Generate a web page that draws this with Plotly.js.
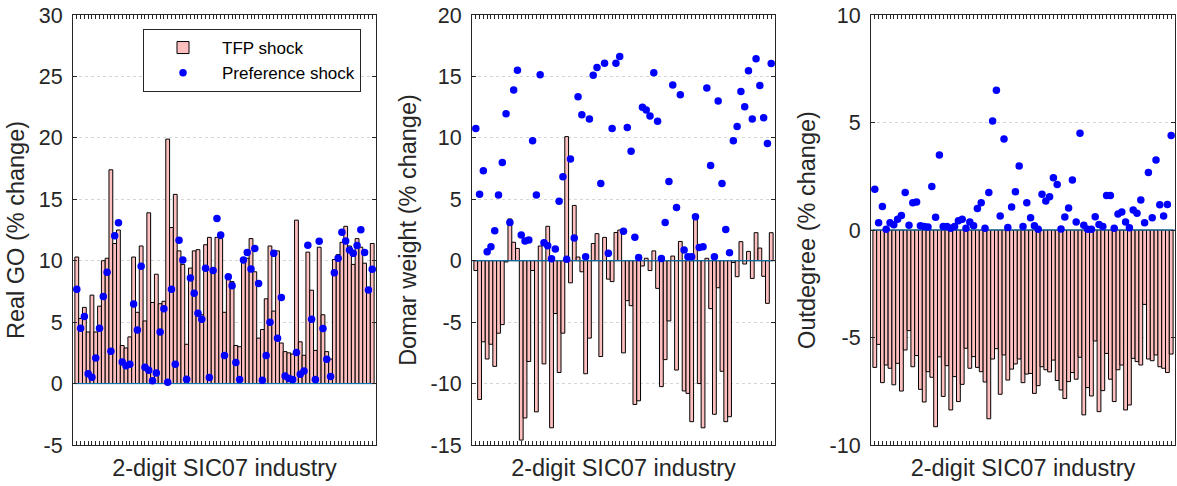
<!DOCTYPE html>
<html><head><meta charset="utf-8">
<script src="https://cdn.plot.ly/plotly-3.0.1.min.js"></script>
<style>html,body{margin:0;padding:0;background:#fff}#chart{width:1177px;height:486px}</style>
</head><body><div id="chart"></div>
<script>
const industry = [1,2,3,4,5,6,7,8,9,10,11,12,13,14,15,16,17,18,19,20,21,22,23,24,25,26,27,28,29,30,31,32,33,34,35,36,37,38,39,40,41,42,43,44,45,46,47,48,49,50,51,52,53,54,55,56,57,58,59,60,61,62,63,64,65,66,67,68,69,70,71,72,73,74,75,76,77,78,79];

const goTFP = [10.3,5.3,6.2,4.2,7.2,4.2,6.3,10.0,10.2,17.4,11.4,12.5,3.1,2.9,3.8,10.3,5.8,11.2,5.1,13.9,6.6,8.9,6.5,6.7,19.9,12.7,15.4,10.8,9.7,3.2,9.4,10.8,10.9,5.6,11.3,11.9,9.2,11.9,11.8,5.8,8.5,8.3,3.1,3.0,10.1,10.2,11.8,9.1,3.7,4.4,6.9,11.2,5.9,10.8,3.3,2.6,2.5,2.4,13.3,3.4,2.3,10.7,7.6,2.7,11.1,5.6,2.6,2.0,10.1,10.5,11.5,12.8,11.2,9.7,11.8,11.1,9.8,7.7,11.4];
const goPref = [7.68,4.5,5.45,0.79,0.52,2.09,4.5,7.08,9.06,2.63,12.04,13.1,1.76,1.46,1.57,6.48,4.37,9.55,1.33,1.08,0.22,0.87,4.2,6.1,0.11,7.68,1.57,11.66,10.06,0.35,8.6,7.35,5.72,5.23,9.38,0.49,9.2,13.43,12.1,2.28,8.7,7.97,1.71,0.33,10.06,10.66,9.33,11.0,8.14,0.27,2.28,5.0,10.6,3.69,7.0,0.62,0.41,0.33,2.52,0.76,1.03,11.26,5.23,0.33,11.58,4.48,1.98,0.57,9.03,10.2,12.31,11.6,10.88,10.6,11.23,12.53,10.66,7.62,9.3];

const domarTFP = [-0.8,-11.3,-6.6,-8.0,-6.8,-8.6,-5.9,-5.2,-0.1,3.4,1.5,1.0,-14.6,-12.8,-8.2,-0.8,-12.3,1.2,-8.4,2.8,-13.6,-4.3,-9.1,-5.9,10.1,-1.8,4.5,0.3,-0.9,-9.2,-6.3,1.4,2.2,-7.8,1.9,-1.5,-1.7,2.3,2.5,-7.5,-3.25,-3.66,-11.7,-11.4,-0.43,0.2,-0.8,0.8,-2.25,-10.25,-8.05,-4.9,0.38,-8.9,1.57,-10.6,-10.8,-13.1,3.4,-10.0,-13.6,0.2,-3.9,-12.5,-2.2,-9.0,-13.1,-12.7,-0.15,-1.3,1.55,-0.27,0.76,-1.44,2.28,1.03,-1.27,-3.47,2.28];
const domarPref = [10.77,5.42,7.32,0.73,1.14,2.44,5.34,8.0,11.96,3.12,13.89,15.51,2.09,1.6,1.68,9.76,5.34,15.13,1.46,1.22,0.16,0.95,4.83,6.83,0.11,8.27,1.84,13.34,11.88,0.33,11.53,15.1,15.73,6.29,16.08,0.6,10.77,16.08,16.63,2.39,10.85,8.9,1.9,0.27,12.5,12.26,11.77,15.3,11.36,0.19,3.12,6.45,14.3,4.34,13.5,0.87,0.33,0.33,3.58,1.08,1.14,14.05,7.76,0.33,13.0,6.29,2.55,0.65,9.76,10.93,13.78,12.53,15.46,11.53,16.44,14.27,11.64,9.55,16.06];

const outTFP = [-6.39,-5.32,-7.1,-6.28,-6.43,-7.2,-6.2,-7.49,-5.58,-4.68,-6.36,-5.84,-7.41,-8.0,-6.59,-6.85,-9.15,-5.9,-7.74,-6.31,-8.37,-6.82,-7.98,-7.18,-5.5,-6.43,-5.89,-6.39,-6.59,-7.07,-8.78,-6.0,-5.52,-7.64,-5.81,-6.98,-6.47,-6.23,-6.0,-7.1,-6.7,-6.67,-7.6,-7.24,-6.36,-6.5,-6.6,-6.05,-7.0,-7.44,-7.84,-7.05,-6.63,-6.94,-5.92,-8.6,-7.33,-7.72,-5.16,-8.45,-7.47,-5.74,-6.94,-7.98,-6.5,-6.28,-8.37,-8.14,-5.97,-6.12,-6.28,-3.46,-6.0,-6.08,-5.81,-6.36,-6.43,-6.63,-5.77];
const outPref = [1.89,0.34,1.09,0.03,0.34,0.25,0.5,0.68,1.74,0.22,1.27,1.3,0.2,0.16,0.14,2.02,0.59,3.49,0.16,0.16,0.08,0.16,0.43,0.5,0.08,0.37,0.2,1.0,1.27,0.08,1.75,5.07,6.5,0.65,4.23,0.12,1.07,1.78,2.98,0.16,1.27,0.57,0.2,0.03,1.66,1.35,1.55,2.43,2.12,0.05,0.6,1.02,2.33,0.37,4.5,0.22,0.03,0.03,0.62,0.26,0.16,1.61,1.61,0.08,0.74,0.84,0.37,0.11,0.93,0.78,1.4,0.34,2.67,0.57,3.26,1.18,0.65,1.19,4.4];

const goTickVals = [-5,0,5,10,15,20,25,30];
const goTickText = ['-5','0','5','10','15','20','25','30'];
const domarTickVals = [-15,-10,-5,0,5,10,15,20];
const domarTickText = ['-15','-10','-5','0','5','10','15','20'];
const outTickVals = [-10,-5,0,5,10];
const outTickText = ['-10','-5','0','5','10'];

const yTitles = ['Real GO (% change)','Domar weight (% change)','Outdegree (% change)'];
const xTitle = '2-digit SIC07 industry';
const seriesNames = ['TFP shock','Preference shock'];

const FONT = 'Liberation Sans, Arial, Helvetica, sans-serif';
const AX = '#262626';
const BAR = 'rgb(255,191,191)';
const DOT = '#0000ff';
const BASE = '#0a7fc4';

const panels = [
  {tfp: goTFP, pref: goPref, range: [-5, 30], tv: goTickVals, tt: goTickText},
  {tfp: domarTFP, pref: domarPref, range: [-15, 20], tv: domarTickVals, tt: domarTickText},
  {tfp: outTFP, pref: outPref, range: [-10, 10], tv: outTickVals, tt: outTickText}
];
const xDomains = [[73/1177, 376/1177], [472/1177, 775/1177], [871/1177, 1175/1177]];
const yDomain = [1 - 445/486, 1 - 15/486];
const xMax = industry.length + 1;

const traces = [];
const layout = {
  width: 1177, height: 486,
  margin: {l: 0, r: 0, t: 0, b: 0},
  paper_bgcolor: '#fff', plot_bgcolor: '#fff',
  font: {family: FONT, color: AX},
  showlegend: true,
  hovermode: false,
  bargap: 0,
  legend: {
    x: 143/1177, y: 1 - 29/486, xanchor: 'left', yanchor: 'top',
    bgcolor: '#fff', bordercolor: AX, borderwidth: 1,
    font: {family: FONT, size: 17, color: '#000'},
    itemwidth: 68, tracegroupgap: 0
  }
};

panels.forEach((p, i) => {
  const sfx = i === 0 ? '' : String(i + 1);
  const xa = 'x' + sfx, ya = 'y' + sfx;
  traces.push({
    type: 'bar', x: industry, y: p.tfp, xaxis: xa, yaxis: ya, width: 1,
    name: seriesNames[0], showlegend: i === 0, legendrank: 1,
    marker: {color: BAR, line: {color: '#000', width: 1}}
  });
  traces.push({
    type: 'scatter', mode: 'lines', x: [0, xMax], y: [0, 0], xaxis: xa, yaxis: ya,
    line: {color: BASE, width: 1}, showlegend: false, hoverinfo: 'skip'
  });
  traces.push({
    type: 'scatter', mode: 'markers', x: industry, y: p.pref, xaxis: xa, yaxis: ya,
    name: seriesNames[1], showlegend: i === 0, legendrank: 2,
    marker: {color: DOT, size: 7.5, line: {width: 0}}
  });
  layout['xaxis' + sfx] = {
    domain: xDomains[i], anchor: ya, range: [0, xMax],
    tickmode: 'array', tickvals: industry, ticks: 'inside', ticklen: 4, tickwidth: 1, tickcolor: AX,
    showticklabels: false, showline: true, mirror: 'ticks', linecolor: AX, linewidth: 1,
    showgrid: false, zeroline: false,
    title: {text: xTitle, font: {family: FONT, size: 23.5, color: AX}, standoff: 14}
  };
  layout['yaxis' + sfx] = {
    domain: yDomain, anchor: xa, range: p.range,
    tickmode: 'array', tickvals: p.tv, ticktext: p.tt,
    ticks: 'inside', ticklen: 4, tickwidth: 1, tickcolor: AX, ticklabelstandoff: 5,
    tickfont: {family: FONT, size: 21.5, color: AX},
    showline: true, mirror: 'ticks', linecolor: AX, linewidth: 1,
    showgrid: true, gridcolor: '#d6d6d6', griddash: 'dot', gridwidth: 1, zeroline: false,
    title: {text: yTitles[i], font: {family: FONT, size: 23.5, color: AX}, standoff: 7}
  };
});

Plotly.newPlot('chart', traces, layout, {displayModeBar: false, staticPlot: true});
</script>
</body></html>
